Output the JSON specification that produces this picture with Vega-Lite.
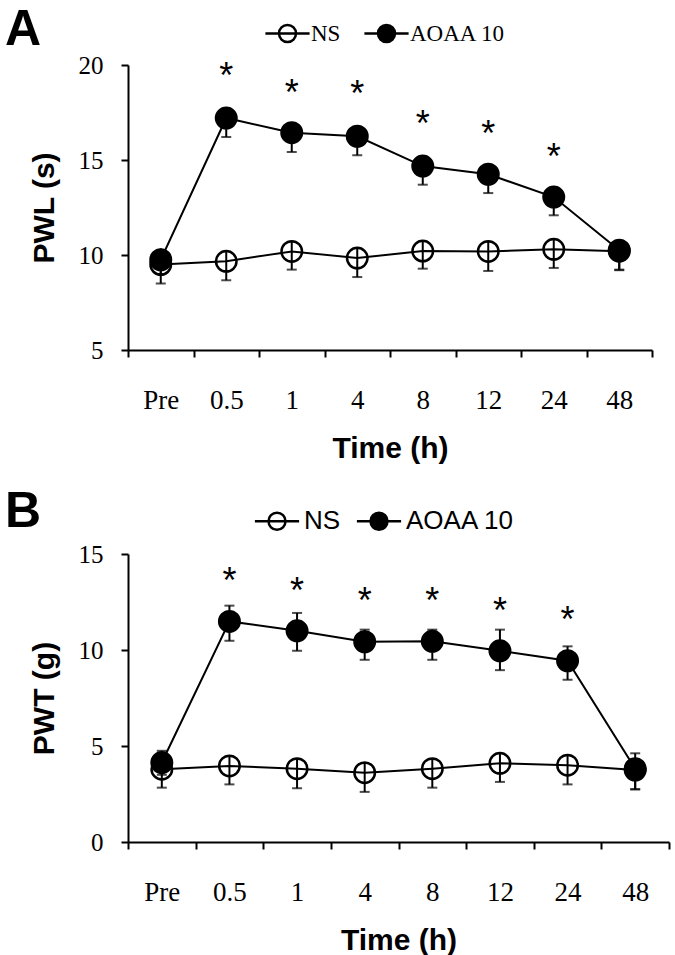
{
  "$schema": "https://vega.github.io/schema/vega-lite/v6.json",
  "background": "white",
  "padding": {"left": 5, "top": 5, "right": 5, "bottom": 5},
  "spacing": 24,
  "resolve": {"scale": {"fill": "independent", "x": "independent", "y": "independent"}, "legend": {"fill": "independent"}},
  "config": {
    "view": {"stroke": null},
    "axis": {
      "grid": false,
      "domainColor": "black",
      "domainWidth": 2,
      "tickColor": "black",
      "tickWidth": 2,
      "tickSize": 7,
      "labelColor": "black",
      "labelFont": "Liberation Serif",
      "labelFontSize": 25,
      "titleColor": "black",
      "titleFont": "Liberation Sans",
      "titleFontWeight": "bold",
      "titleFontSize": 30
    },
    "title": {"color": "black", "font": "Liberation Sans", "fontWeight": "bold", "fontSize": 50, "anchor": "start", "frame": "group"}
  },
  "datasets": {
    "a": [
      {"t": "Pre", "g": "NS", "m": 9.5, "lo": 8.5, "hi": 10.0},
      {"t": "0.5", "g": "NS", "m": 9.67, "lo": 8.67, "hi": 10.17},
      {"t": "1", "g": "NS", "m": 10.19, "lo": 9.23, "hi": 10.69},
      {"t": "4", "g": "NS", "m": 9.84, "lo": 8.84, "hi": 10.34},
      {"t": "8", "g": "NS", "m": 10.21, "lo": 9.28, "hi": 10.71},
      {"t": "12", "g": "NS", "m": 10.19, "lo": 9.16, "hi": 10.69},
      {"t": "24", "g": "NS", "m": 10.3, "lo": 9.32, "hi": 10.8},
      {"t": "48", "g": "NS", "m": 10.2, "lo": 9.2, "hi": 10.7},
      {"t": "Pre", "g": "AOAA 10", "m": 9.75, "lo": 9.0, "hi": 10.35},
      {"t": "0.5", "g": "AOAA 10", "m": 17.21, "lo": 16.21, "hi": 17.21},
      {"t": "1", "g": "AOAA 10", "m": 16.44, "lo": 15.42, "hi": 16.44},
      {"t": "4", "g": "AOAA 10", "m": 16.25, "lo": 15.25, "hi": 16.25},
      {"t": "8", "g": "AOAA 10", "m": 14.68, "lo": 13.7, "hi": 14.68},
      {"t": "12", "g": "AOAA 10", "m": 14.25, "lo": 13.26, "hi": 14.25},
      {"t": "24", "g": "AOAA 10", "m": 13.05, "lo": 12.09, "hi": 13.05},
      {"t": "48", "g": "AOAA 10", "m": 10.25, "lo": 9.23, "hi": 10.25}
    ],
    "sa": [
      {"t": "0.5", "v": 19.9},
      {"t": "1", "v": 19.02},
      {"t": "4", "v": 18.93},
      {"t": "8", "v": 17.35},
      {"t": "12", "v": 16.86},
      {"t": "24", "v": 15.63}
    ],
    "b": [
      {"t": "Pre", "g": "NS", "m": 3.79, "lo": 2.83, "hi": 4.29, "capHi": null},
      {"t": "0.5", "g": "NS", "m": 3.96, "lo": 3.0, "hi": 4.46, "capHi": null},
      {"t": "1", "g": "NS", "m": 3.82, "lo": 2.8, "hi": 4.32, "capHi": null},
      {"t": "4", "g": "NS", "m": 3.61, "lo": 2.61, "hi": 4.11, "capHi": null},
      {"t": "8", "g": "NS", "m": 3.82, "lo": 2.83, "hi": 4.32, "capHi": null},
      {"t": "12", "g": "NS", "m": 4.1, "lo": 3.13, "hi": 4.6, "capHi": null},
      {"t": "24", "g": "NS", "m": 4.0, "lo": 3.0, "hi": 4.5, "capHi": null},
      {"t": "48", "g": "NS", "m": 3.75, "lo": 2.75, "hi": 4.25, "capHi": null},
      {"t": "Pre", "g": "AOAA 10", "m": 4.14, "lo": 3.5, "hi": 4.75, "capHi": 4.75},
      {"t": "0.5", "g": "AOAA 10", "m": 11.49, "lo": 10.48, "hi": 12.31, "capHi": 12.31},
      {"t": "1", "g": "AOAA 10", "m": 11.0, "lo": 9.96, "hi": 11.93, "capHi": 11.93},
      {"t": "4", "g": "AOAA 10", "m": 10.43, "lo": 9.49, "hi": 11.06, "capHi": 11.06},
      {"t": "8", "g": "AOAA 10", "m": 10.45, "lo": 9.49, "hi": 11.06, "capHi": 11.06},
      {"t": "12", "g": "AOAA 10", "m": 9.96, "lo": 8.95, "hi": 11.06, "capHi": 11.06},
      {"t": "24", "g": "AOAA 10", "m": 9.44, "lo": 8.45, "hi": 10.19, "capHi": 10.19},
      {"t": "48", "g": "AOAA 10", "m": 3.82, "lo": 2.74, "hi": 4.62, "capHi": 4.62}
    ],
    "sb": [
      {"t": "0.5", "v": 14.08},
      {"t": "1", "v": 13.56},
      {"t": "4", "v": 13.0},
      {"t": "8", "v": 13.0},
      {"t": "12", "v": 12.5},
      {"t": "24", "v": 12.04}
    ]
  },
  "vconcat": [
    {
      "title": {"text": "A", "dx": -123, "dy": 37},
      "width": 524,
      "height": 285,
      "encoding": {
        "x": {
          "field": "t", "type": "ordinal",
          "sort": ["Pre", "0.5", "1", "4", "8", "12", "24", "48"],
          "scale": {"type": "band", "paddingInner": 0, "paddingOuter": 0},
          "axis": {"title": "Time (h)", "labelAngle": 0, "tickBand": "extent", "labelPadding": 30, "labelFontSize": 27, "titlePadding": 20}
        },
        "y": {"field": "m", "type": "quantitative", "scale": {"domain": [5, 20], "nice": false}, "axis": {"title": "PWL (s)", "values": [5, 10, 15, 20], "labelPadding": 18, "titlePadding": 19}}
      },
      "layer": [
        {
          "data": {"name": "a"},
          "mark": {"type": "line", "color": "black", "strokeWidth": 2},
          "encoding": {
            "x": {"field": "t", "type": "ordinal", "sort": ["Pre", "0.5", "1", "4", "8", "12", "24", "48"], "bandPosition": 0.5},
            "detail": {"field": "g"}
          }
        },
        {
          "data": {"name": "a"},
          "mark": {"type": "rule", "color": "black", "strokeWidth": 2},
          "encoding": {
            "x": {"field": "t", "type": "ordinal", "sort": ["Pre", "0.5", "1", "4", "8", "12", "24", "48"], "bandPosition": 0.5},
            "y": {"field": "lo", "type": "quantitative", "scale": {"domain": [5, 20], "nice": false}},
            "y2": {"field": "hi"}
          }
        },
        {
          "data": {"name": "a"},
          "mark": {"type": "tick", "color": "black", "thickness": 2, "size": 10, "orient": "horizontal"},
          "encoding": {
            "y": {"field": "lo", "type": "quantitative", "scale": {"domain": [5, 20], "nice": false}}
          }
        },
        {
          "data": {"name": "a"},
          "mark": {"type": "point", "shape": "circle", "size": 420, "filled": true, "stroke": "black", "strokeWidth": 2.5, "opacity": 1},
          "encoding": {
            "x": {"field": "t", "type": "ordinal", "sort": ["Pre", "0.5", "1", "4", "8", "12", "24", "48"], "bandPosition": 0.5},
            "fill": {
              "field": "g", "type": "nominal",
              "scale": {"domain": ["NS", "AOAA 10"], "range": ["transparent", "black"]},
              "legend": {
                "title": null, "orient": "none", "legendX": 148, "legendY": -43, "direction": "horizontal",
                "padding": 0, "symbolType": "M-2.6,0H2.6M-1,0A1,1 0 1,0 1,0A1,1 0 1,0 -1,0",
                "symbolSize": 289, "symbolStrokeWidth": 2.5, "symbolStrokeColor": "black", "symbolOpacity": 1,
                "labelFont": "Liberation Serif", "labelFontSize": 23, "labelColor": "black",
                "labelOffset": 12, "columnPadding": 18
              }
            }
          }
        },
        {
          "data": {"name": "sa"},
          "mark": {"type": "text", "text": "*", "font": "Liberation Sans", "fontSize": 36, "color": "black", "baseline": "middle", "dy": 10, "clip": false},
          "encoding": {
            "x": {"field": "t", "type": "ordinal", "sort": ["Pre", "0.5", "1", "4", "8", "12", "24", "48"], "bandPosition": 0.5},
            "y": {"field": "v", "type": "quantitative", "scale": {"domain": [5, 20], "nice": false}}
          }
        }
      ]
    },
    {
      "title": {"text": "B", "dx": -123, "dy": 33},
      "width": 541,
      "height": 288,
      "encoding": {
        "x": {
          "field": "t", "type": "ordinal",
          "sort": ["Pre", "0.5", "1", "4", "8", "12", "24", "48"],
          "scale": {"type": "band", "paddingInner": 0, "paddingOuter": 0},
          "axis": {"title": "Time (h)", "labelAngle": 0, "tickBand": "extent", "labelPadding": 30, "labelFontSize": 27, "titlePadding": 20}
        },
        "y": {"field": "m", "type": "quantitative", "scale": {"domain": [0, 15], "nice": false}, "axis": {"title": "PWT (g)", "values": [0, 5, 10, 15], "labelPadding": 18, "titlePadding": 19}}
      },
      "layer": [
        {
          "data": {"name": "b"},
          "mark": {"type": "line", "color": "black", "strokeWidth": 2},
          "encoding": {
            "x": {"field": "t", "type": "ordinal", "sort": ["Pre", "0.5", "1", "4", "8", "12", "24", "48"], "bandPosition": 0.5},
            "detail": {"field": "g"}
          }
        },
        {
          "data": {"name": "b"},
          "mark": {"type": "rule", "color": "black", "strokeWidth": 2},
          "encoding": {
            "x": {"field": "t", "type": "ordinal", "sort": ["Pre", "0.5", "1", "4", "8", "12", "24", "48"], "bandPosition": 0.5},
            "y": {"field": "lo", "type": "quantitative", "scale": {"domain": [0, 15], "nice": false}},
            "y2": {"field": "hi"}
          }
        },
        {
          "data": {"name": "b"},
          "mark": {"type": "tick", "color": "black", "thickness": 2, "size": 10, "orient": "horizontal"},
          "encoding": {
            "y": {"field": "lo", "type": "quantitative", "scale": {"domain": [0, 15], "nice": false}}
          }
        },
        {
          "data": {"name": "b"},
          "mark": {"type": "tick", "color": "black", "thickness": 2, "size": 10, "orient": "horizontal"},
          "encoding": {
            "y": {"field": "capHi", "type": "quantitative", "scale": {"domain": [0, 15], "nice": false}}
          }
        },
        {
          "data": {"name": "b"},
          "mark": {"type": "point", "shape": "circle", "size": 420, "filled": true, "stroke": "black", "strokeWidth": 2.5, "opacity": 1},
          "encoding": {
            "x": {"field": "t", "type": "ordinal", "sort": ["Pre", "0.5", "1", "4", "8", "12", "24", "48"], "bandPosition": 0.5},
            "fill": {
              "field": "g", "type": "nominal",
              "scale": {"domain": ["NS", "AOAA 10"], "range": ["transparent", "black"]},
              "legend": {
                "title": null, "orient": "none", "legendX": 136, "legendY": -46, "direction": "horizontal",
                "padding": 0, "symbolType": "M-2.6,0H2.6M-1,0A1,1 0 1,0 1,0A1,1 0 1,0 -1,0",
                "symbolSize": 289, "symbolStrokeWidth": 2.5, "symbolStrokeColor": "black", "symbolOpacity": 1,
                "labelFont": "Liberation Sans", "labelFontSize": 26, "labelColor": "black",
                "labelOffset": 14, "columnPadding": 10
              }
            }
          }
        },
        {
          "data": {"name": "sb"},
          "mark": {"type": "text", "text": "*", "font": "Liberation Sans", "fontSize": 36, "color": "black", "baseline": "middle", "dy": 10, "clip": false},
          "encoding": {
            "x": {"field": "t", "type": "ordinal", "sort": ["Pre", "0.5", "1", "4", "8", "12", "24", "48"], "bandPosition": 0.5},
            "y": {"field": "v", "type": "quantitative", "scale": {"domain": [0, 15], "nice": false}}
          }
        }
      ]
    }
  ]
}
